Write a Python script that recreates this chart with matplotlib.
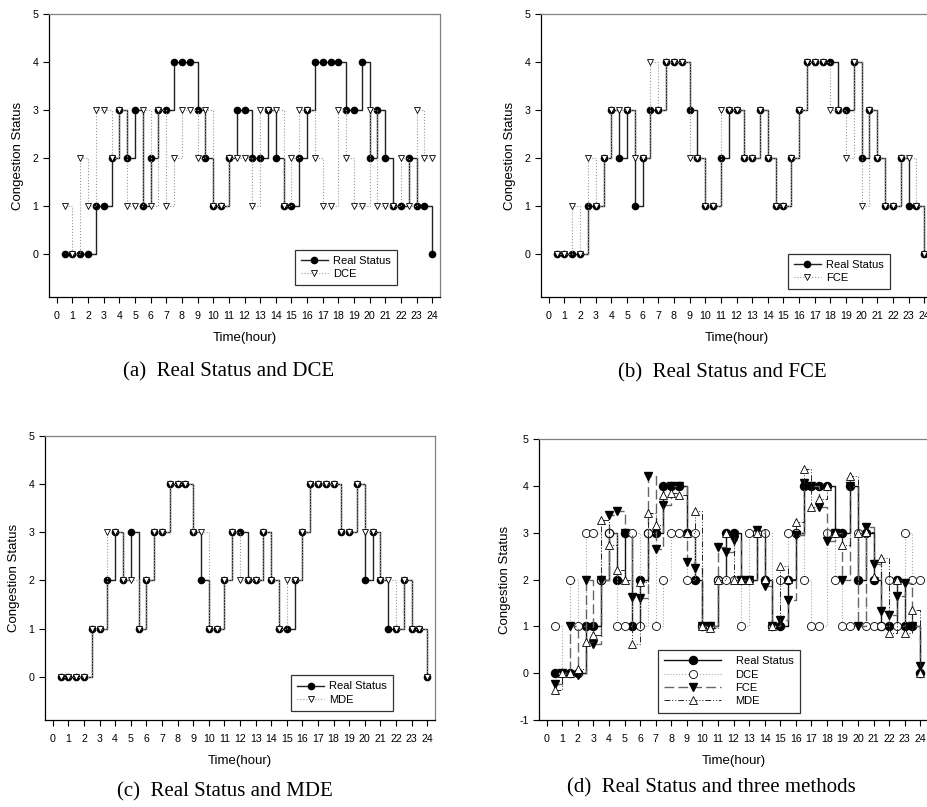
import numpy as np
import matplotlib
matplotlib.use('Agg')
from matplotlib import pyplot as plt

plt.rcParams['font.family'] = ['Liberation Sans', 'DejaVu Sans']
plt.rcParams['axes.unicode_minus'] = False

# half-hour slots 0.5 .. 24
hours = np.arange(0.5, 24.01, 0.5)

real = [0, 0, 0, 0, 1, 1, 2, 3, 2, 3, 1, 2, 3, 3, 4, 4, 4, 3, 2, 1, 1, 2, 3, 3,
        2, 2, 3, 2, 1, 1, 2, 3, 4, 4, 4, 4, 3, 3, 4, 2, 3, 2, 1, 1, 2, 1, 1, 0]
dce = [1, 0, 2, 1, 3, 3, 2, 3, 1, 1, 3, 1, 3, 1, 2, 3, 3, 2, 3, 1, 1, 2, 2, 2,
       1, 3, 3, 3, 1, 2, 3, 3, 2, 1, 1, 3, 2, 1, 1, 3, 1, 1, 1, 2, 1, 3, 2, 2]
fce_level = [0, 0, 1, 0, 2, 1, 2, 3, 3, 3, 2, 2, 4, 3, 4, 4, 4, 2, 2, 1, 1, 3, 3, 3,
             2, 2, 3, 2, 1, 1, 2, 3, 4, 4, 4, 3, 3, 2, 4, 1, 3, 2, 1, 1, 2, 2, 1, 0]
mde_level = [0, 0, 0, 0, 1, 1, 3, 3, 2, 2, 1, 2, 3, 3, 4, 4, 4, 3, 3, 1, 1, 2, 3, 2,
             2, 2, 3, 2, 1, 2, 2, 3, 4, 4, 4, 4, 3, 3, 4, 3, 3, 2, 2, 1, 2, 1, 1, 0]
# raw estimates shown in panel (d)
fce_raw = [-0.24, 0.0, 1.0, -0.03, 2.0, 0.63, 2.0, 3.37, 3.47, 3.0, 1.63, 1.61,
           4.22, 2.66, 3.59, 4.0, 4.0, 2.38, 2.24, 1.0, 1.0, 2.7, 2.59, 2.85,
           2.0, 2.0, 3.05, 1.86, 1.0, 1.14, 1.57, 2.95, 4.07, 4.0, 3.55, 2.83,
           3.0, 2.0, 4.0, 1.0, 3.12, 2.34, 1.32, 1.24, 1.64, 1.93, 1.0, 0.15]
mde_raw = [-0.37, 0.01, 0.0, 0.09, 0.67, 0.81, 3.28, 2.73, 2.21, 2.0, 0.63, 1.95,
           3.43, 3.17, 3.81, 3.85, 3.8, 3.0, 3.47, 1.0, 0.97, 2.0, 3.0, 2.0,
           2.0, 2.0, 3.0, 2.01, 1.0, 2.29, 2.01, 3.23, 4.35, 3.54, 3.72, 4.0,
           3.0, 2.73, 4.2, 3.0, 3.02, 2.05, 2.46, 0.85, 2.0, 0.85, 1.35, 0.0]

W, H = 927, 807
fig = plt.figure(figsize=(W / 100, H / 100), dpi=100)


def add_ax(l, t, r, b):
    return fig.add_axes([l / W, 1 - b / H, (r - l) / W, (b - t) / H])


def style(ax, ymin):
    ax.set_xlim(-0.5, 24.5)
    ax.set_ylim(ymin, 5)
    ax.set_xticks(range(25))
    ax.set_yticks(range(int(np.ceil(ymin)), 6))
    for s in ['top', 'right']:
        ax.spines[s].set_color('#808080')
    for s in ax.spines.values():
        s.set_linewidth(0.9)
    ax.tick_params(axis='x', direction='out', length=4, width=0.8,
                   labelsize=7.7, pad=6)
    ax.tick_params(axis='y', direction='out', length=4, width=0.8,
                   labelsize=7.7, pad=3.5)
    ax.set_xlabel('Time(hour)', fontsize=9.5, labelpad=8)
    ax.set_ylabel('Congestion Status', fontsize=9.5, labelpad=6)


def pair_panel(ax, est, name, anchor):
    ax.plot(hours, real, drawstyle='steps-post', color='#222222', lw=1.0,
            marker='o', ms=4.5, mfc='black', mec='black', label='Real Status',
            zorder=3)
    ax.plot(hours, est, drawstyle='steps-post', color='#9a9a9a', lw=0.8,
            ls=':', marker='v', ms=4.5, mfc='white', mec='black', mew=0.6,
            label=name, zorder=4)
    style(ax, -0.9)
    leg = ax.legend(loc='lower right', bbox_to_anchor=anchor, borderaxespad=0,
                    fontsize=8, handlelength=2.4, handletextpad=0.5,
                    labelspacing=0.3, borderpad=0.55, fancybox=False,
                    framealpha=1)
    leg.get_frame().set_edgecolor('#333333')
    leg.get_frame().set_linewidth(0.9)


ax_a = add_ax(49, 14, 440, 297)
pair_panel(ax_a, dce, 'DCE', (0.89, 0.042))

ax_b = add_ax(541, 14, 932, 297)
pair_panel(ax_b, fce_level, 'FCE', (0.893, 0.028))

ax_c = add_ax(45, 436, 435, 720)
pair_panel(ax_c, mde_level, 'MDE', (0.893, 0.032))

ax_d = add_ax(539, 439, 928, 720)
ax_d.plot(hours, real, drawstyle='steps-post', color='#111111', lw=1.0,
          marker='o', ms=5.8, mfc='black', mec='black', label='Real Status',
          zorder=2)
ax_d.plot(hours, dce, drawstyle='steps-post', color='#aaaaaa', lw=0.8,
          ls=':', marker='o', ms=5.8, mfc='white', mec='black', mew=0.6,
          label='DCE', zorder=3)
ax_d.plot(hours, fce_raw, drawstyle='steps-post', color='#666666', lw=1.0,
          ls=(0, (7, 3)), marker='v', ms=5.8, mfc='black', mec='black',
          label='FCE', zorder=4)
ax_d.plot(hours, mde_raw, drawstyle='steps-post', color='#222222', lw=0.7,
          ls=(0, (6, 2, 1, 2, 1, 2)), marker='^', ms=5.8, mfc='white',
          mec='black', mew=0.6, label='MDE', zorder=5)
style(ax_d, -1)
leg = ax_d.legend(loc='lower right', bbox_to_anchor=(0.671, 0.025),
                  borderaxespad=0, fontsize=8, handlelength=5.1,
                  handletextpad=1.3, labelspacing=0.3, borderpad=0.6,
                  fancybox=False, framealpha=1)
leg.get_frame().set_edgecolor('#333333')
leg.get_frame().set_linewidth(0.9)

captions = [('(a)  Real Status and DCE', 229, 372),
            ('(b)  Real Status and FCE', 722, 373),
            ('(c)  Real Status and MDE', 225, 792),
            ('(d)  Real Status and three methods', 711, 788)]
for txt, x, y in captions:
    fig.text(x / W, 1 - y / H, txt, ha='center', va='center',
             family=['Liberation Serif', 'DejaVu Serif'], fontsize=15)

fig.savefig('out.png', dpi=100)
